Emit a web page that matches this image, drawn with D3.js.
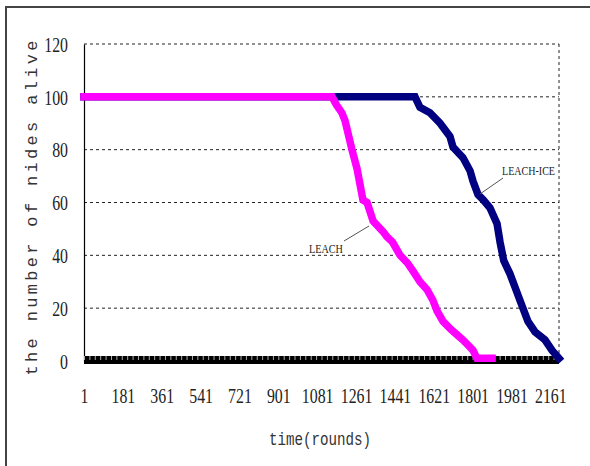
<!DOCTYPE html>
<html><head><meta charset="utf-8">
<script src="https://cdn.jsdelivr.net/npm/d3@7/dist/d3.min.js"></script>
<style>body{margin:0;background:#fff;}svg{display:block;}</style>
</head><body>
<svg id="c" width="590" height="466"></svg>
<script>
const xTickLabels = [1, 181, 361, 541, 721, 901, 1081, 1261, 1441, 1621, 1801, 1981, 2161];
const yTickLabels = [0, 20, 40, 60, 80, 100, 120];
const leachRounds = [1, 1150, 1170, 1195, 1210, 1242, 1265, 1293, 1312, 1340, 1386, 1404, 1430, 1465, 1500, 1525, 1557, 1590, 1617, 1636, 1664, 1700, 1728, 1756, 1780, 1803, 1821, 1891];
const leachAlive  = [100, 100, 97, 94, 91, 80, 73, 61, 60, 53, 49, 47, 45, 40, 37, 34, 30, 27, 23, 19, 15, 12, 10, 8, 6, 4, 1, 1];
const iceRounds = [1, 1534, 1557, 1603, 1650, 1696, 1710, 1756, 1789, 1803, 1826, 1850, 1881, 1914, 1928, 1945, 1974, 1997, 2020, 2057, 2090, 2136, 2169, 2201];
const iceAlive  = [100, 100, 96, 94, 90, 85, 81, 77, 72, 68, 63, 61, 58, 52, 45, 38, 33, 28, 23, 15, 11, 8, 4, 1];
const seriesNames = ["LEACH", "LEACH-ICE"];

const svg = d3.select("#c");
const L = 84, R = 559, T = 44, B = 361;
const x = d3.scaleLinear().domain([1, 2201]).range([L, R]);
const y = d3.scaleLinear().domain([0, 120]).range([B, T]);

// outer frame
svg.append("path").attr("d", `M6,466 L6,7 L590,7`).attr("fill", "none").attr("stroke", "#444").attr("stroke-width", 2);

// gridlines
svg.append("g").selectAll("line").data(yTickLabels.filter(d => d > 0)).join("line")
  .attr("x1", L).attr("x2", R).attr("y1", d => y(d)).attr("y2", d => y(d))
  .attr("stroke", "#222").attr("stroke-width", 1).attr("stroke-dasharray", "3,3");
svg.append("line").attr("x1", R).attr("x2", R).attr("y1", T).attr("y2", B)
  .attr("stroke", "#222").attr("stroke-width", 1).attr("stroke-dasharray", "3,3");

// y axis
const yAxis = svg.append("g").attr("transform", `translate(${L},0)`)
  .call(d3.axisLeft(y).tickValues(yTickLabels).tickSize(0).tickPadding(14).tickFormat(d3.format("d")));
yAxis.select(".domain").attr("stroke", "#000").attr("stroke-width", 1.2);
yAxis.selectAll("text").attr("font-family", "Liberation Serif").attr("font-size", 22)
  .attr("fill", "#222").attr("transform", "scale(0.72,1)").attr("dy", "0.33em");
yAxis.selectAll(".tick text").attr("x", -16 / 0.72);

// x axis (thick zero band with minor ticks)
svg.append("rect").attr("x", L).attr("y", y(0) - 5).attr("width", R - L).attr("height", 8).attr("fill", "#000");
const xMinor = svg.append("g").attr("transform", `translate(0,${y(0) - 5})`)
  .call(d3.axisBottom(x).tickValues(d3.range(1, 2202, 25)).tickSize(4).tickFormat(""));
xMinor.select(".domain").remove();
xMinor.selectAll("line").attr("stroke", "#aaa").attr("stroke-width", 1);

const xAxis = svg.append("g").attr("transform", `translate(0,${B})`)
  .call(d3.axisBottom(x).tickValues(xTickLabels).tickSize(0).tickPadding(26).tickFormat(d3.format("d")));
xAxis.select(".domain").remove();
xAxis.selectAll("text").attr("font-family", "Liberation Serif").attr("font-size", 22)
  .attr("fill", "#222").attr("transform", "scale(0.72,1)");

// lines
const line = d3.line().x(d => x(d[0])).y(d => y(d[1]));
svg.append("path").datum(iceRounds.map((r, i) => [r, iceAlive[i]]))
  .attr("d", line).attr("fill", "none").attr("stroke", "#000080").attr("stroke-width", 7.5)
  .attr("stroke-linecap", "square").attr("stroke-linejoin", "miter");
svg.append("path").datum(leachRounds.map((r, i) => [r, leachAlive[i]]))
  .attr("d", line).attr("fill", "none").attr("stroke", "#ff00ff").attr("stroke-width", 7.5)
  .attr("stroke-linecap", "square").attr("stroke-linejoin", "miter");

// annotations
svg.append("line").attr("x1", 503).attr("y1", 178).attr("x2", 480).attr("y2", 194).attr("stroke", "#555").attr("stroke-width", 1);
svg.append("text").attr("x", 502).attr("y", 175).attr("font-family", "Liberation Serif").attr("font-size", 13)
  .attr("fill", "#222").attr("textLength", 53).attr("lengthAdjust", "spacingAndGlyphs").text(seriesNames[1]);
svg.append("line").attr("x1", 344).attr("y1", 241).attr("x2", 369).attr("y2", 226).attr("stroke", "#555").attr("stroke-width", 1);
svg.append("text").attr("x", 309).attr("y", 253).attr("font-family", "Liberation Serif").attr("font-size", 13)
  .attr("fill", "#222").attr("textLength", 34).attr("lengthAdjust", "spacingAndGlyphs").text(seriesNames[0]);

// axis titles
svg.append("text").attr("transform", "translate(37,208) rotate(-90)").attr("text-anchor", "middle")
  .attr("font-family", "Liberation Mono").attr("font-size", 17).attr("fill", "#333")
  .attr("textLength", 335).attr("lengthAdjust", "spacing").text("the number of nides alive");
svg.append("text").attr("x", 320).attr("y", 445).attr("text-anchor", "middle")
  .attr("font-family", "Liberation Mono").attr("font-size", 18).attr("fill", "#333")
  .attr("textLength", 102).attr("lengthAdjust", "spacingAndGlyphs").text("time(rounds)");
</script>
</body></html>
